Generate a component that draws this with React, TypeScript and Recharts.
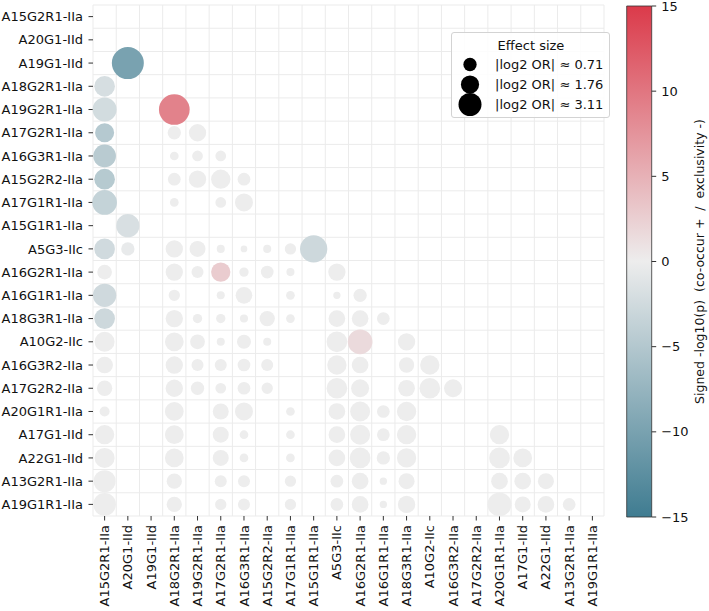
import React from 'react';
import {
    ScatterChart,
    Scatter,
    XAxis,
    YAxis,
    ZAxis,
    CartesianGrid,
    Cell,
    BarChart,
    Bar,
} from 'recharts';

// gene order used for both rows (top to bottom) and columns (left to right)
const genes = [
    'A15G2R1-IIa', 'A20G1-IId', 'A19G1-IId', 'A18G2R1-IIa', 'A19G2R1-IIa', 'A17G2R1-IIa',
    'A16G3R1-IIa', 'A15G2R2-IIa', 'A17G1R1-IIa', 'A15G1R1-IIa', 'A5G3-IIc', 'A16G2R1-IIa',
    'A16G1R1-IIa', 'A18G3R1-IIa', 'A10G2-IIc', 'A16G3R2-IIa', 'A17G2R2-IIa', 'A20G1R1-IIa',
    'A17G1-IId', 'A22G1-IId', 'A13G2R1-IIa', 'A19G1R1-IIa',
];

// |log2 OR| per pair (lower triangle, row r has columns 0..r-1), null = not tested
const effectByRow: (number | null)[][] = [
    [],
    [null],
    [null, 4.49],
    [1.78, null, null],
    [2.45, null, null, 4.12],
    [1.48, null, null, 0.64, 1.2],
    [2.18, null, null, 0.18, 0.36, 0.36],
    [1.78, null, null, 0.57, 1.2, 1.53, 0.57],
    [2.61, null, null, 0.18, null, 0.36, 1.31, null],
    [null, 2.3, null, null, null, null, null, null, null],
    [1.78, 0.64, null, 1.2, 1.0, 0.13, 0.04, 0.13, 0.42, 3.22],
    [0.82, null, null, 1.2, 0.49, 1.53, 0.23, 0.57, 0.13, null, 1.2],
    [2.3, null, null, 0.42, null, 0.13, 1.1, null, 0.18, null, 0.08, 0.64],
    [1.78, null, null, 1.2, 0.23, 0.23, 0.13, 0.9, 0.18, null, 1.1, 1.1, 0.57],
    [1.65, null, null, 1.43, 0.82, 0.13, 0.73, 0.13, null, null, 1.78, 2.61, null, 1.2],
    [1.1, null, null, 1.2, 0.49, 0.49, 0.57, 0.49, null, null, 1.53, 1.1, null, 0.9, 1.53],
    [0.9, null, null, 1.2, 0.64, 0.36, 0.57, 0.42, null, null, 1.78, 1.31, null, 1.1, 1.78, 1.31],
    [0.29, null, null, 1.43, null, 1.0, 1.31, null, 0.18, null, 1.1, 1.65, 0.57, 1.53, null, null, null],
    [1.53, null, null, 1.43, null, 1.0, 0.18, null, 0.18, null, 1.1, 1.65, 0.57, 1.53, null, null, null, 1.53],
    [1.65, null, null, 1.43, null, 1.0, 0.18, null, 0.18, null, 1.1, 1.78, 0.64, 1.53, null, null, null, 1.78, 1.43],
    [2.04, null, null, 0.9, null, 0.49, 0.49, null, 0.42, null, 0.57, 1.1, 0.08, 1.0, null, null, null, 1.1, 1.1, 1.0],
    [2.18, null, null, 0.9, null, 0.42, 0.49, null, 0.42, null, 0.57, 1.1, 0.08, 1.2, null, null, null, 2.45, 1.0, 1.1, 0.57],
];

// signed -log10(p): + co-occurrence, - exclusivity
const signedByRow: (number | null)[][] = [
    [],
    [null],
    [null, -10],
    [-2, null, null],
    [-2.3, null, null, 9],
    [-4.8, null, null, 0, 0],
    [-4.5, null, null, 0, 0, 0],
    [-4.7, null, null, 0, 0, 0, 0],
    [-3.5, null, null, 0, null, 0, 0, null],
    [null, -1.8, null, null, null, null, null, null, null],
    [-2.5, -0.4, null, 0, 0, 0, 0, 0, 0, -2.8],
    [0, null, null, 0, 0, 2.8, 0, 0, 0, null, 0],
    [-2.6, null, null, 0, null, 0, 0, null, 0, null, 0, 0],
    [-2.8, null, null, 0, 0, 0, 0, 0, 0, null, 0, 0, 0],
    [0, null, null, 0, 0, 0, 0, 0, null, null, 0, 1.6, null, 0],
    [0, null, null, 0, 0, 0, 0, 0, null, null, 0, 0, null, 0, 0],
    [0, null, null, 0, 0, 0, 0, 0, null, null, 0, 0, null, 0, 0, 0],
    [0, null, null, 0, null, 0, 0, null, 0, null, 0, 0, 0, 0, null, null, null],
    [0, null, null, 0, null, 0, 0, null, 0, null, 0, 0, 0, 0, null, null, null, 0],
    [0, null, null, 0, null, 0, 0, null, 0, null, 0, 0, 0, 0, null, null, null, 0, 0],
    [0, null, null, 0, null, 0, 0, null, 0, null, 0, 0, 0, 0, null, null, null, 0, 0, 0],
    [0, null, null, 0, null, 0, 0, null, 0, null, 0, 0, 0, 0, null, null, null, 0, 0, 0, 0],
];

const legendEffects = [0.71, 1.76, 3.11];
const colorbarTicks = [-15, -10, -5, 0, 5, 10, 15];
const colorbarRange = [{ name: 'cb', span: [-15, 15] }];

const FONT = '"DejaVu Sans", sans-serif';
const LOW = [63, 124, 145];
const MID = [237, 237, 237];
const HIGH = [219, 58, 74];
const VMAX = 15;

function colorFor(v: number) {
    const t = Math.max(-1, Math.min(1, v / VMAX));
    const end = t < 0 ? LOW : HIGH;
    const a = Math.abs(t);
    const rgb = MID.map((m, i) => Math.round(m + (end[i] - m) * a));
    return `rgb(${rgb[0]},${rgb[1]},${rgb[2]})`;
}

const points = effectByRow.flatMap((row, r) =>
    row.flatMap((e, c) => (e == null ? [] : [{ x: c, y: r, z: e, v: signedByRow[r][c] ?? 0 }]))
);

const idx = genes.map((_, i) => i);

const XTick = ({ x, y, payload }: any) => (
    <text
        x={x}
        y={y}
        transform={`rotate(-90, ${x}, ${y})`}
        textAnchor="end"
        dy="0.35em"
        fontSize={13}
        fill="#111"
    >
        {genes[payload.value]}
    </text>
);

// legend marker diameter
const legendDiam = (e: number) => Math.sqrt(73 + 146.7 * e);

function EffectLegend() {
    return (
        <div style={{
            position: 'absolute', left: 450.5, top: 31.5, width: 157, height: 84,
            border: '1px solid #d3d3d3', borderRadius: 3, background: 'rgba(255,255,255,0.85)',
        }}>
            <svg width={157} height={84} style={{ display: 'block' }}>
                <text x={79} y={12} dy="0.35em" textAnchor="middle" fontSize={13} fill="#111">Effect size</text>
                {legendEffects.map((e, i) => (
                    <g key={e}>
                        <circle cx={18} cy={31.5 + 20 * i} r={legendDiam(e) / 2} fill="#000" />
                        <text x={43} y={31.5 + 20 * i} dy="0.35em" fontSize={13} fill="#111">
                            {`|log2 OR| \u2248 ${e.toFixed(2)}`}
                        </text>
                    </g>
                ))}
            </svg>
        </div>
    );
}

export default function App() {
    return (
        <div style={{ position: 'absolute', left: 0, top: 0, width: 709, height: 611, background: '#fff', fontFamily: FONT }}>
            <ScatterChart width={709} height={611} margin={{ top: 5, right: 105, bottom: 0, left: 0 }}>
                <CartesianGrid
                    stroke="#ebebeb"
                    verticalCoordinatesGenerator={({ offset }: any) =>
                        Array.from({ length: 23 }, (_, k) => offset.left + (k * offset.width) / 22)}
                    horizontalCoordinatesGenerator={({ offset }: any) =>
                        Array.from({ length: 23 }, (_, k) => offset.top + (k * offset.height) / 22)}
                />
                <XAxis
                    type="number"
                    dataKey="x"
                    domain={[-0.5, 21.5]}
                    ticks={idx}
                    interval={0}
                    height={95}
                    axisLine={false}
                    tickLine={{ stroke: '#333' }}
                    tickSize={4.5}
                    tickMargin={4.5}
                    tick={<XTick />}
                />
                <YAxis
                    type="number"
                    dataKey="y"
                    domain={[-0.5, 21.5]}
                    reversed
                    ticks={idx}
                    interval={0}
                    width={93}
                    axisLine={false}
                    tickLine={{ stroke: '#333' }}
                    tickSize={4.5}
                    tickMargin={5.5}
                    tick={{ fontSize: 13, fill: '#111' }}
                    tickFormatter={(v: number) => genes[v]}
                />
                <ZAxis type="number" dataKey="z" domain={[0, 4.5]} range={[28.27, 805.86]} />
                <Scatter data={points} isAnimationActive={false}>
                    {points.map((p, i) => (
                        <Cell key={i} fill={colorFor(p.v)} />
                    ))}
                </Scatter>
            </ScatterChart>

            <EffectLegend />

            <div style={{ position: 'absolute', left: 620, top: 0 }}>
                <BarChart
                    width={89}
                    height={611}
                    data={colorbarRange}
                    margin={{ top: 6, right: 0, bottom: 94, left: 6.7 }}
                    barCategoryGap={0}
                >
                    <defs>
                        <linearGradient id="cbGrad" x1="0" y1="0" x2="0" y2="1">
                            <stop offset="0" stopColor={colorFor(15)} />
                            <stop offset="0.5" stopColor={colorFor(0)} />
                            <stop offset="1" stopColor={colorFor(-15)} />
                        </linearGradient>
                    </defs>
                    <XAxis dataKey="name" hide />
                    <YAxis
                        orientation="right"
                        type="number"
                        domain={[-15, 15]}
                        ticks={colorbarTicks}
                        interval={0}
                        width={57.3}
                        axisLine={false}
                        tickLine={{ stroke: '#333' }}
                        tickSize={4.5}
                        tickMargin={5}
                        tick={{ fontSize: 13, fill: '#111', textAnchor: 'start' }}
                        tickFormatter={(v: number) => (v < 0 ? `\u2212${Math.abs(v)}` : `${v}`)}
                        label={({ viewBox }: any) => (
                            <text
                                x={viewBox.x + 48.3}
                                y={viewBox.y + viewBox.height / 2}
                                transform={`rotate(-90, ${viewBox.x + 48.3}, ${viewBox.y + viewBox.height / 2})`}
                                textAnchor="middle"
                                dy="0.35em"
                                fontSize={12.5}
                                fill="#111"
                                style={{ whiteSpace: 'pre' }}
                            >
                                {'Signed -log10(p)  (co-occur +  /  exclusivity -)'}
                            </text>
                        )}
                    />
                    <Bar dataKey="span" fill="url(#cbGrad)" stroke="#333" strokeWidth={0.8} isAnimationActive={false} />
                </BarChart>
            </div>
        </div>
    );
}
